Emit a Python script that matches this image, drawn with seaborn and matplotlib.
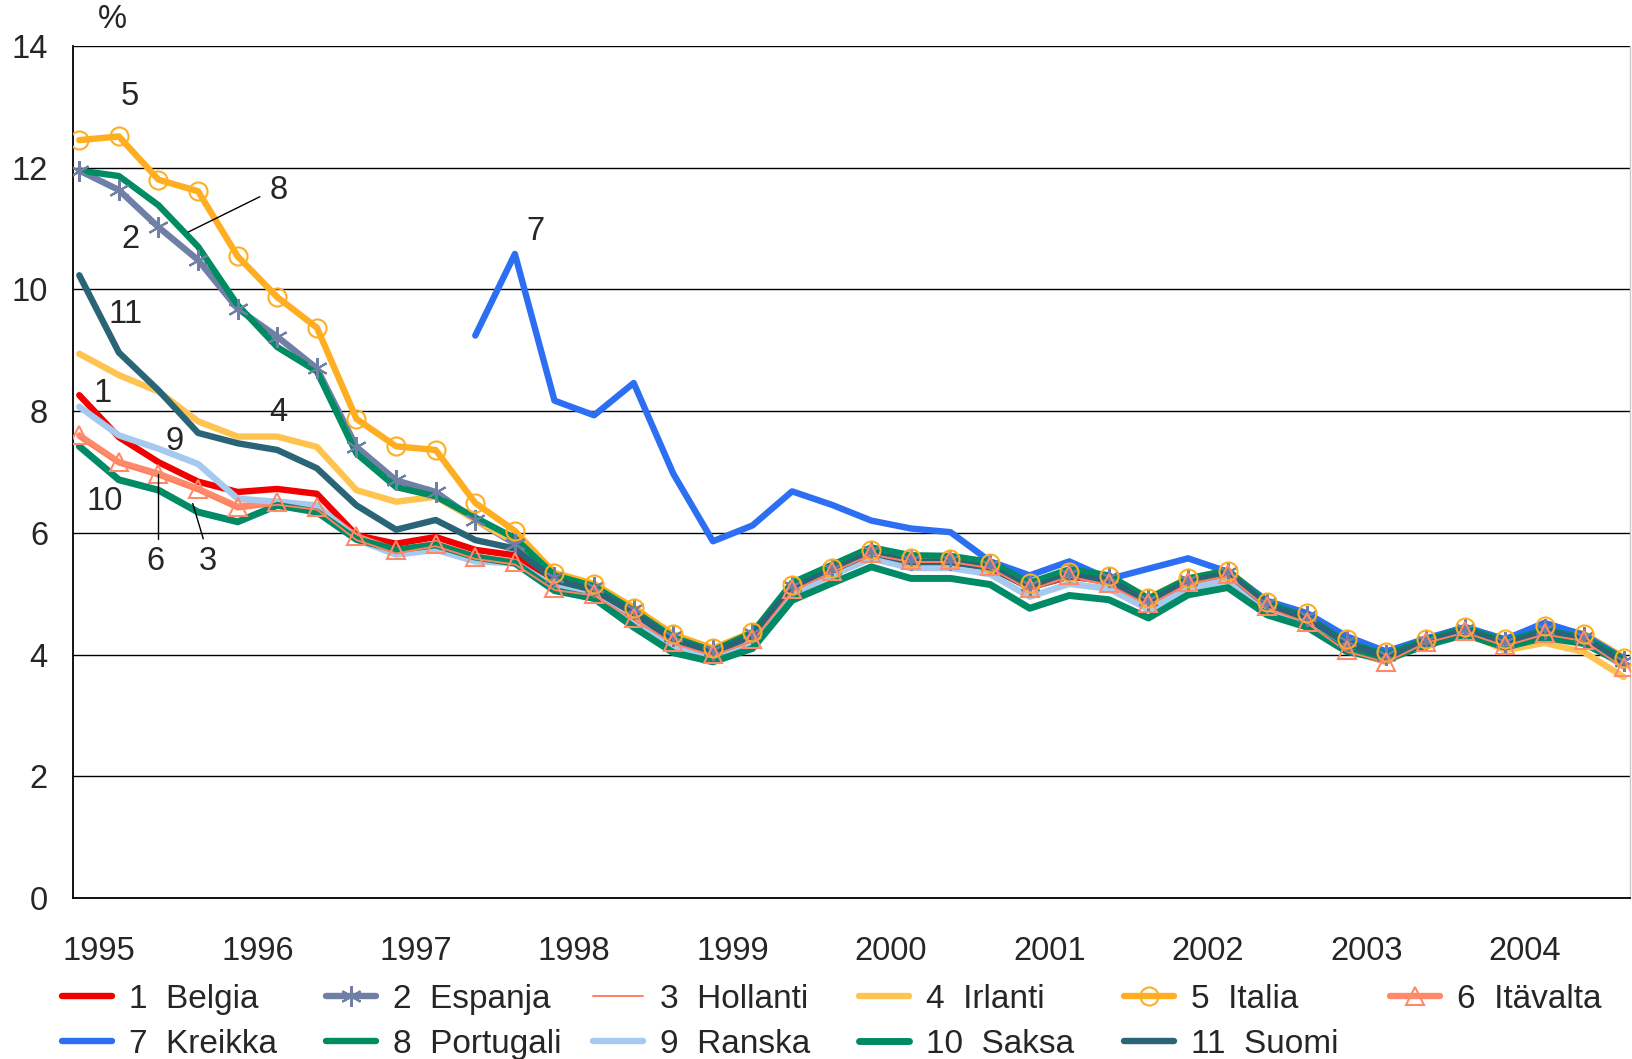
import numpy as np
import pandas as pd
import matplotlib
matplotlib.use("Agg")
import matplotlib.pyplot as plt
import seaborn as sns
from matplotlib.lines import Line2D

quarters = pd.period_range("1995Q1", "2004Q4", freq="Q")
years = list(range(1995, 2005))
nan = np.nan

belgia = [8.26, 7.57, 7.16, 6.84, 6.67, 6.72, 6.64, 5.96, 5.82, 5.93, 5.72, 5.63, 5.20, 5.04, 4.65, 4.23, 4.02, 4.30, 5.10, 5.38,
          5.67, 5.52, 5.51, 5.43, 5.10, 5.28, 5.20, 4.85, 5.18, 5.32, 4.80, 4.58, 4.15, 3.96, 4.18, 4.38, 4.16, 4.36, 4.24, 3.85]
espanja = [11.95, 11.63, 11.02, 10.48, 9.68, 9.22, 8.70, 7.41, 6.86, 6.67, 6.21, 5.82, 5.28, 5.11, 4.74, 4.30, 4.08, 4.35, 5.12, 5.40,
           5.70, 5.56, 5.55, 5.47, 5.14, 5.33, 5.27, 4.90, 5.22, 5.35, 4.84, 4.64, 4.22, 4.00, 4.22, 4.42, 4.20, 4.42, 4.28, 3.90]
hollanti = [7.55, 7.12, 6.92, 6.68, 6.38, 6.46, 6.38, 5.88, 5.66, 5.78, 5.57, 5.48, 5.06, 4.97, 4.57, 4.18, 3.98, 4.22, 5.04, 5.35,
            5.64, 5.52, 5.52, 5.42, 5.06, 5.28, 5.14, 4.81, 5.16, 5.29, 4.76, 4.52, 4.05, 3.87, 4.19, 4.36, 4.14, 4.33, 4.22, 3.78]
irlanti = [8.94, 8.59, 8.32, 7.83, 7.58, 7.58, 7.41, 6.70, 6.51, 6.59, 6.21, 5.85, 5.22, 5.06, 4.66, 4.22, 4.02, 4.30, 5.10, 5.38,
           5.68, 5.54, 5.53, 5.44, 5.10, 5.30, 5.22, 4.86, 5.19, 5.32, 4.80, 4.58, 4.15, 3.96, 4.18, 4.36, 4.07, 4.19, 4.04, 3.63]
italia = [12.45, 12.51, 11.80, 11.61, 10.54, 9.87, 9.37, 7.87, 7.42, 7.36, 6.49, 6.03, 5.34, 5.16, 4.77, 4.33, 4.10, 4.37, 5.14, 5.42,
          5.72, 5.58, 5.57, 5.50, 5.18, 5.36, 5.29, 4.93, 5.25, 5.38, 4.87, 4.68, 4.26, 4.04, 4.26, 4.45, 4.25, 4.47, 4.34, 3.95]
itavalta = [7.60, 7.16, 6.97, 6.72, 6.43, 6.51, 6.43, 5.94, 5.71, 5.82, 5.61, 5.52, 5.09, 5.00, 4.60, 4.21, 4.01, 4.25, 5.07, 5.38,
            5.67, 5.55, 5.55, 5.46, 5.09, 5.31, 5.17, 4.84, 5.19, 5.32, 4.79, 4.54, 4.07, 3.88, 4.21, 4.38, 4.16, 4.35, 4.24, 3.80]
kreikka = [nan, nan, nan, nan, nan, nan, nan, nan, nan, nan, 9.24, 10.58, 8.17, 7.93, 8.46, 6.97, 5.86, 6.12, 6.68, 6.46,
           6.20, 6.07, 6.01, 5.53, 5.30, 5.53, 5.24, 5.41, 5.58, 5.36, 4.88, 4.68, 4.30, 4.05, 4.26, 4.45, 4.25, 4.52, 4.32, 3.93]
portugali = [11.95, 11.86, 11.38, 10.70, 9.74, 9.05, 8.65, 7.30, 6.75, 6.60, 6.25, 5.91, 5.30, 5.12, 4.72, 4.28, 4.06, 4.36, 5.18, 5.47,
             5.76, 5.63, 5.62, 5.52, 5.18, 5.40, 5.30, 4.92, 5.25, 5.38, 4.84, 4.62, 4.20, 4.00, 4.24, 4.43, 4.22, 4.40, 4.28, 3.92]
ranska = [8.07, 7.60, 7.38, 7.13, 6.56, 6.51, 6.45, 5.89, 5.64, 5.72, 5.53, 5.50, 5.12, 4.98, 4.55, 4.12, 3.96, 4.20, 5.00, 5.30,
          5.58, 5.42, 5.42, 5.32, 4.95, 5.16, 5.08, 4.74, 5.08, 5.22, 4.72, 4.52, 4.10, 3.92, 4.16, 4.36, 4.12, 4.32, 4.20, 3.82]
saksa = [7.42, 6.87, 6.70, 6.34, 6.18, 6.45, 6.34, 5.89, 5.72, 5.80, 5.60, 5.50, 5.05, 4.92, 4.45, 4.03, 3.88, 4.10, 4.89, 5.17,
         5.44, 5.25, 5.25, 5.15, 4.76, 4.97, 4.90, 4.60, 4.98, 5.10, 4.65, 4.45, 4.05, 3.92, 4.15, 4.33, 4.12, 4.28, 4.18, 3.85]
suomi = [10.23, 8.96, 8.34, 7.64, 7.47, 7.36, 7.06, 6.45, 6.05, 6.21, 5.88, 5.74, 5.22, 5.06, 4.68, 4.24, 4.03, 4.31, 5.10, 5.38,
         5.67, 5.52, 5.52, 5.43, 5.10, 5.30, 5.22, 4.86, 5.20, 5.33, 4.80, 4.60, 4.18, 3.97, 4.20, 4.40, 4.18, 4.38, 4.25, 3.87]

# label, values, colour, line width, marker
series = [
    ("1  Belgia", belgia, "#f20000", 4.6, None),
    ("2  Espanja", espanja, "#6f7fa6", 4.6, (6, 2, 0)),
    ("3  Hollanti", hollanti, "#ff8060", 1.4, None),
    ("4  Irlanti", irlanti, "#ffc44f", 4.6, None),
    ("5  Italia", italia, "#ffae21", 4.6, "o"),
    ("6  Itävalta", itavalta, "#ff8a6a", 4.6, "^"),
    ("7  Kreikka", kreikka, "#2d6ff2", 4.6, None),
    ("8  Portugali", portugali, "#008c62", 4.6, None),
    ("9  Ranska", ranska, "#a6c9ef", 4.6, None),
    ("10  Saksa", saksa, "#008a66", 5.0, None),
    ("11  Suomi", suomi, "#2a6477", 4.6, None),
]

# annotation numbers next to the lines
labels = ["5", "8", "2", "11", "7", "1", "4", "9", "10", "6", "3"]
label_x = [1995.36, 1996.30, 1995.36, 1995.33, 1997.92, 1995.19, 1996.30, 1995.64, 1995.20, 1995.52, 1995.85]
label_y = [13.17, 11.62, 10.81, 9.59, 10.95, 8.29, 7.98, 7.50, 6.52, 5.52, 5.52]

sns.set_style("white")
plt.rcParams["font.family"] = ["Liberation Sans", "DejaVu Sans"]
fs = 23.5

fig = plt.figure(figsize=(16.32, 10.59), dpi=100)
ax = fig.add_axes([0.0447, 0.152, 0.9541, 0.8048])

x = np.asarray(quarters.year + (quarters.quarter - 1) / 4 + 0.04, dtype=float)

msize = {"o": 13, "^": 13, (6, 2, 0): 15}
handles = []
for i, (name, vals, col, lw, mk) in enumerate(series):
    z = 3 + i * 0.1
    if name.startswith("3 "):
        z = 5
    sns.lineplot(x=x, y=vals, color=col, linewidth=lw, ax=ax, zorder=z)
    ms = msize.get(mk, 0) if mk is not None else 0
    if mk is not None:
        ax.plot(x, vals, linestyle="none", marker=mk, markersize=ms,
                markerfacecolor="none", markeredgecolor=col, markeredgewidth=1.5, zorder=6)
    handles.append(Line2D([], [], color=col, linewidth=lw, marker=mk, markersize=ms,
                          markerfacecolor="none", markeredgecolor=col, markeredgewidth=1.5))

ax.set_xlim(1995, 2004.83)
ax.set_ylim(0, 14)
ax.set_yticks(range(0, 15, 2))
ax.yaxis.grid(True, color="black", linewidth=1)
ax.set_axisbelow(True)
ax.tick_params(axis="y", length=0, pad=18, labelsize=fs)

ax.set_xticks(years)
ax.set_xticklabels([])
ax.set_xticks([y + 0.165 for y in years], minor=True)
ax.set_xticklabels([str(y) for y in years], minor=True)
ax.tick_params(axis="x", which="major", direction="in", length=7, color="black", width=1)
ax.tick_params(axis="x", which="minor", length=0, pad=27, labelsize=fs)
ax.set_xlabel("")
ax.set_ylabel("")

for side in ["left", "bottom"]:
    ax.spines[side].set_color("black")
    ax.spines[side].set_linewidth(1.3)
ax.spines["top"].set_visible(False)
ax.spines["right"].set_color("#c8c8c8")
ax.spines["right"].set_linewidth(1)

for t, lx, ly in zip(labels, label_x, label_y):
    ax.text(lx, ly, t, fontsize=fs, ha="center", va="center", zorder=8)

# leader lines
ax.plot([1995.728, 1996.18], [10.94, 11.52], color="black", linewidth=1, zorder=8)
ax.plot([1995.54, 1995.54], [6.97, 5.90], color="black", linewidth=1, zorder=8)
ax.plot([1995.756, 1995.823], [6.48, 5.90], color="black", linewidth=1, zorder=8)

fig.text(112 / 1632, 1 - 19 / 1059, "%", fontsize=fs, ha="center", va="center")

# legend: six columns, two rows
col_x = [62, 326, 593, 859, 1124, 1390]
for c in range(6):
    idx = [c, c + 6] if c + 6 < len(series) else [c]
    fig.legend([handles[j] for j in idx], [series[j][0] for j in idx],
               loc="upper left", bbox_to_anchor=(col_x[c] / 1632, 0.071),
               frameon=False, fontsize=24, handlelength=1.5, handletextpad=0.5,
               labelspacing=0.42, borderpad=0, borderaxespad=0)

fig.savefig("out.png", dpi=100)
